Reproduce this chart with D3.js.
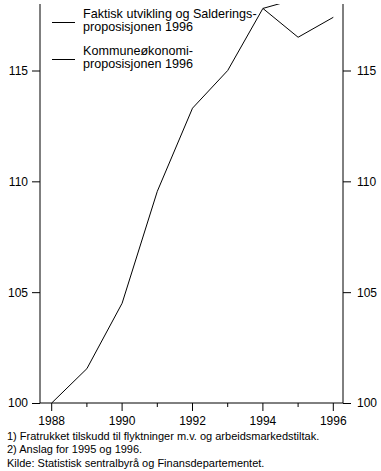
<!DOCTYPE html>
<html><head><meta charset="utf-8">
<script src="https://cdn.jsdelivr.net/npm/d3@7"></script>
<style>
body{margin:0;background:#fff;}
svg{display:block;font-family:"Liberation Sans",Arial,sans-serif;}
</style></head>
<body>
<svg id="c" width="381" height="471"></svg>
<script>
const years = [1988,1989,1990,1991,1992,1993,1994,1995,1996];
const faktisk = [100,101.55,104.5,109.55,113.3,115,117.8,116.5,117.4];
const kommuneYears = [1994,1995,1996];
const kommune = [117.8,118.25,118.7];
const yTicks = [100,105,110,115];
const xMajor = [1988,1990,1992,1994,1996];
const legendLabels = [["Faktisk utvikling og Salderings-","proposisjonen 1996"],["Kommuneøkonomi-","proposisjonen 1996"]];
const footnotes = ["1) Fratrukket tilskudd til flyktninger m.v. og arbeidsmarkedstiltak.","2) Anslag for 1995 og 1996.","Kilde: Statistisk sentralbyrå og Finansdepartementet."];

const svg = d3.select("#c");
const L = 40, R = 343, T = 4, B = 403;
const x = d3.scaleLinear().domain([1988,1996]).range([51.7,333.3]);
const y = d3.scaleLinear().domain([100,118]).range([B,T]);

svg.append("defs").append("clipPath").attr("id","clip")
  .append("rect").attr("x",L).attr("y",T).attr("width",R-L).attr("height",B-T);

const gl = svg.append("g").attr("transform",`translate(${L},0)`)
  .call(d3.axisLeft(y).tickValues(yTicks).tickSize(8).tickPadding(4).tickSizeOuter(0));
const gr = svg.append("g").attr("transform",`translate(${R},0)`)
  .call(d3.axisRight(y).tickValues(yTicks).tickSize(8).tickPadding(6).tickSizeOuter(0));
[gl,gr].forEach(g=>{
  g.select(".domain").attr("d",`M0,${T}V${B}`);
  g.selectAll("text").attr("font-size",12).attr("font-family","Liberation Sans, Arial, sans-serif").attr("fill","#000");
});

const gb = svg.append("g").attr("transform",`translate(0,${B})`);
gb.append("line").attr("x1",L).attr("x2",R).attr("y1",0).attr("y2",0).attr("stroke","#000");
gb.selectAll("line.t").data(years).join("line")
  .attr("x1",d=>x(d)).attr("x2",d=>x(d)).attr("y1",0)
  .attr("y2",d=>xMajor.includes(d)?8:4).attr("stroke","#000");
gb.selectAll("text").data(xMajor).join("text")
  .attr("x",d=>x(d)).attr("y",22).attr("text-anchor","middle")
  .attr("font-size",12).text(d=>d);

const line = d3.line().x(d=>x(d[0])).y(d=>y(d[1]));
const plot = svg.append("g").attr("clip-path","url(#clip)");
plot.append("path").datum(years.map((d,i)=>[d,faktisk[i]]))
  .attr("d",line).attr("fill","none").attr("stroke","#000").attr("stroke-width",1);
plot.append("path").datum(kommuneYears.map((d,i)=>[d,kommune[i]]))
  .attr("d",line).attr("fill","none").attr("stroke","#000").attr("stroke-width",1);

const lg = svg.append("g");
const legY = [22.5, 59.5];
legendLabels.forEach((lab,i)=>{
  lg.append("line").attr("x1",52).attr("x2",75).attr("y1",legY[i]).attr("y2",legY[i]).attr("stroke","#000");
  lab.forEach((t,j)=>{
    lg.append("text").attr("x",83).attr("y",legY[i]-4.5+j*12.5).attr("font-size",12.6).text(t);
  });
});

svg.selectAll("text.fn").data(footnotes).join("text").attr("class","fn")
  .attr("x",7).attr("y",(d,i)=>440+i*13.3).attr("font-size",11).text(d=>d);
</script>
</body></html>
